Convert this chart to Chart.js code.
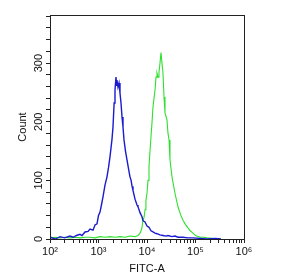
<!DOCTYPE html>
<html>
<head>
<meta charset="utf-8">
<script src="https://cdn.jsdelivr.net/npm/chart.js@4/dist/chart.umd.min.js"></script>
<style>
    html, body { margin: 0; padding: 0; background: #fff; }
    #wrap { width: 288px; height: 275px; }
</style>
</head>
<body>
<div id="wrap"><canvas id="facsChart" width="288" height="275"></canvas></div>
<script>
// Histogram data (FITC-A value, count)
const blueFitc = [100, 130, 161, 200, 258, 300, 350, 416, 457, 527, 609, 668, 771, 847, 931, 1000, 1074, 1150, 1238, 1361, 1497, 1610, 1726, 1897, 1990, 2100, 2188, 2294, 2350, 2405, 2522, 2647, 2774, 2911, 3053, 3199, 3357, 3600, 3869, 4200, 4457, 4700, 4909, 5140, 5662, 6223, 6517, 7178, 7889, 8279, 9101, 10000, 10990, 12080, 13290, 14620, 16070, 18530, 21360, 24650, 27100, 32750, 37760, 43550, 55210, 69980, 88720, 123800, 172600, 252200, 335700];
const blueCount = [3, 0, 4, 2, 5, 3, 6, 8, 6, 12, 13, 17, 15, 24, 26, 40, 46, 58, 72, 92, 106, 122, 140, 170, 191, 232, 254, 276, 262, 271, 259, 266, 249, 232, 208, 191, 169, 150, 135, 118, 106, 100, 90, 83, 68, 58, 55, 45, 38, 31, 29, 22, 20, 14, 12, 10, 9, 7, 6, 5, 6, 4, 5, 3, 3, 2, 2, 1, 0, 1, 0];

const greenFitc = [100, 105, 130, 161, 200, 258, 350, 416, 527, 668, 847, 1074, 1361, 1726, 2188, 2774, 3516, 4457, 5662, 6517, 7178, 7600, 7889, 8279, 8700, 9101, 9500, 10000, 10490, 10990, 11530, 12080, 12670, 13290, 14620, 15340, 16070, 16860, 17660, 18530, 19430, 20370, 21360, 22420, 23500, 25820, 27100, 28500, 29790, 32750, 37760, 43550, 49000, 55210, 62000, 69980, 78000, 88720, 100000, 123800, 150000, 172600, 220000, 335700];
const greenCount = [8, 2, 3, 2, 3, 2, 3, 2, 3, 3, 2, 4, 3, 4, 3, 4, 3, 5, 4, 6, 10, 15, 20, 32, 37, 50, 66, 78, 100, 123, 150, 174, 198, 225, 254, 276, 283, 276, 284, 300, 318, 300, 283, 242, 215, 203, 180, 169, 135, 106, 78, 55, 42, 32, 25, 19, 14, 10, 6, 3, 3, 2, 1, 0];

// Axis labels
const xTitle = "FITC-A";
const yTitle = "Count";
const xDecades = [2, 3, 4, 5, 6];
const yMajorTicks = [0, 100, 200, 300];

const supDigits = { 2: "\u00B2", 3: "\u00B3", 4: "\u2074", 5: "\u2075", 6: "\u2076" };
const fontFamily = "'Liberation Sans', Arial, 'DejaVu Sans', sans-serif";

const toPoints = (xs, ys) => xs.map((x, i) => ({ x: x, y: ys[i] }));

// Draws the full frame round the plot area
const framePlugin = {
    id: "frame",
    afterDatasetsDraw: (chart) => {
        const { ctx, chartArea } = chart;
        ctx.save();
        ctx.strokeStyle = "#222";
        ctx.lineWidth = 1;
        ctx.strokeRect(chartArea.left + 0.5, chartArea.top + 0.5,
            chartArea.right - chartArea.left, chartArea.bottom - chartArea.top);
        ctx.restore();
    },
};

const ctx = document.getElementById("facsChart").getContext("2d");
new Chart(ctx, {
    type: "line",
    data: {
        datasets: [
            {
                label: "control",
                data: toPoints(blueFitc, blueCount),
                borderColor: "#1a1ad0",
                borderWidth: 1.4,
                pointRadius: 0,
                tension: 0,
            },
            {
                label: "antibody",
                data: toPoints(greenFitc, greenCount),
                borderColor: "#2ee02e",
                borderWidth: 1.1,
                pointRadius: 0,
                tension: 0,
            },
        ],
    },
    options: {
        responsive: false,
        animation: false,
        events: [],
        layout: {
            padding: { top: 15, right: 44, left: 0, bottom: 0 },
        },
        scales: {
            x: {
                type: "logarithmic",
                min: Math.pow(10, xDecades[0]),
                max: Math.pow(10, xDecades[xDecades.length - 1]),
                afterBuildTicks: (scale) => {
                    // minor ticks at 2..9 of every decade
                    const ticks = [];
                    xDecades.forEach((e, i) => {
                        const base = Math.pow(10, e);
                        ticks.push({ value: base, major: true });
                        if (i < xDecades.length - 1) {
                            for (let k = 2; k <= 9; k++) ticks.push({ value: k * base });
                        }
                    });
                    scale.ticks = ticks;
                },
                afterFit: (scale) => { scale.height = 36; },
                ticks: {
                    autoSkip: false,
                    maxRotation: 0,
                    padding: 2,
                    color: "#111",
                    font: { family: fontFamily, size: 11 },
                    callback: (value) => {
                        const e = Math.round(Math.log10(value));
                        if (Math.abs(Math.log10(value) - e) > 1e-9) return "";
                        return "10" + supDigits[e];
                    },
                },
                grid: {
                    drawOnChartArea: false,
                    tickLength: 4,
                    color: "#222",
                },
                border: { color: "#222" },
                title: {
                    display: true,
                    text: xTitle,
                    color: "#111",
                    font: { family: fontFamily, size: 11 },
                    padding: { top: 0, bottom: -1 },
                },
            },
            y: {
                min: 0,
                max: 382,
                afterFit: (scale) => { scale.width = 50; },
                ticks: {
                    stepSize: 20,
                    includeBounds: false,
                    autoSkip: false,
                    minRotation: 90,
                    maxRotation: 90,
                    crossAlign: "center",
                    padding: -2,
                    color: "#111",
                    font: { family: fontFamily, size: 11 },
                    callback: (value) => yMajorTicks.includes(value) ? String(value) : "",
                },
                grid: {
                    drawOnChartArea: false,
                    tickLength: 4,
                    color: "#222",
                },
                border: { color: "#222" },
                title: {
                    display: true,
                    text: yTitle,
                    color: "#111",
                    font: { family: fontFamily, size: 11 },
                    padding: { top: 16, bottom: 0 },
                },
            },
        },
        plugins: {
            legend: { display: false },
            tooltip: { enabled: false },
        },
    },
    plugins: [framePlugin],
});
</script>
</body>
</html>
